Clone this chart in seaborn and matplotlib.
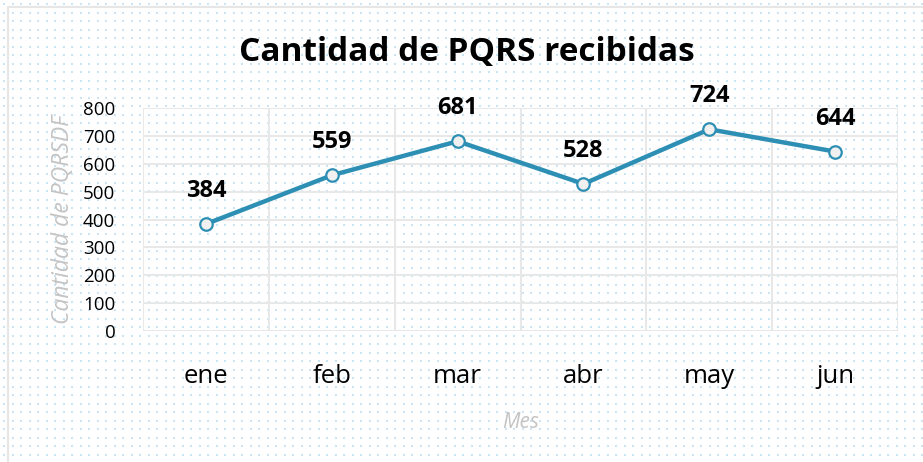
import numpy as np
import pandas as pd
import seaborn as sns
import matplotlib.pyplot as plt

# data
meses = ["ene", "feb", "mar", "abr", "may", "jun"]
pqrs = [384, 559, 681, 528, 724, 644]
y_ticks = [0, 100, 200, 300, 400, 500, 600, 700, 800]

df = pd.DataFrame({"Mes": meses, "PQRS": pqrs})

sns.set_theme(style="white")
plt.rcParams["font.family"] = ["Open Sans", "DejaVu Sans"]

fig = plt.figure(figsize=(9.23, 4.62), dpi=100)
fig.patch.set_facecolor("white")

# dotted background + left/top frame
bg = fig.add_axes([0, 0, 1, 1], zorder=0)
bg.set_xlim(0, 923)
bg.set_ylim(462, 0)
gx, gy = np.meshgrid(np.arange(4, 923, 8.5), np.arange(4, 462, 8.5))
bg.scatter(gx.ravel(), gy.ravel(), s=2.6, color="#c9e5f5", marker="s", linewidths=0)
bg.plot([8, 8], [7, 462], color="#e6e6e6", lw=1.5)
bg.plot([8, 923], [7, 7], color="#e6e6e6", lw=1.5)
bg.axis("off")

ax = fig.add_axes([0.155, 0.2835, 0.818, 0.4825], zorder=1)
ax.patch.set_alpha(0)

sns.lineplot(data=df, x="Mes", y="PQRS", ax=ax, sort=False, color="#2e8fb4",
             linewidth=3.2, marker="o", markersize=9, markerfacecolor="#f0f0f0",
             markeredgecolor="#2e8fb4", markeredgewidth=1.6, zorder=3)

for i, v in enumerate(pqrs):
    ax.annotate(str(v), (i, v), xytext=(0, 15), textcoords="offset points",
                ha="center", va="bottom", fontsize=17, fontweight="bold", color="black")

ax.set_xlim(-0.5, len(meses) - 0.5)
ax.set_ylim(0, 800)
ax.set_yticks(y_ticks)
ax.set_xticks(range(len(meses)))
ax.set_xticklabels(meses)
ax.set_xticks(np.arange(-0.5, len(meses), 1), minor=True)
ax.grid(False)
ax.grid(True, axis="y", which="major", color="#e8e8e8", lw=1.5)
ax.grid(True, axis="x", which="minor", color="#e8e8e8", lw=1.5)
ax.tick_params(axis="both", which="both", length=0)
ax.tick_params(axis="y", labelsize=13.5, pad=20, labelcolor="black")
ax.tick_params(axis="x", labelsize=18.5, pad=24, labelcolor="black")
for sp in ax.spines.values():
    sp.set_visible(False)

ax.set_xlabel("Mes", fontsize=15, style="italic", color="#c4c4c4", labelpad=16)
ax.set_ylabel("Cantidad de PQRSDF", fontsize=16.5, style="italic", color="#c4c4c4", labelpad=6)

fig.text(0.506, 0.887, "Cantidad de PQRS recibidas", ha="center", va="center",
         fontsize=24, fontweight="bold", color="black")

fig.savefig("out.png", dpi=100)
